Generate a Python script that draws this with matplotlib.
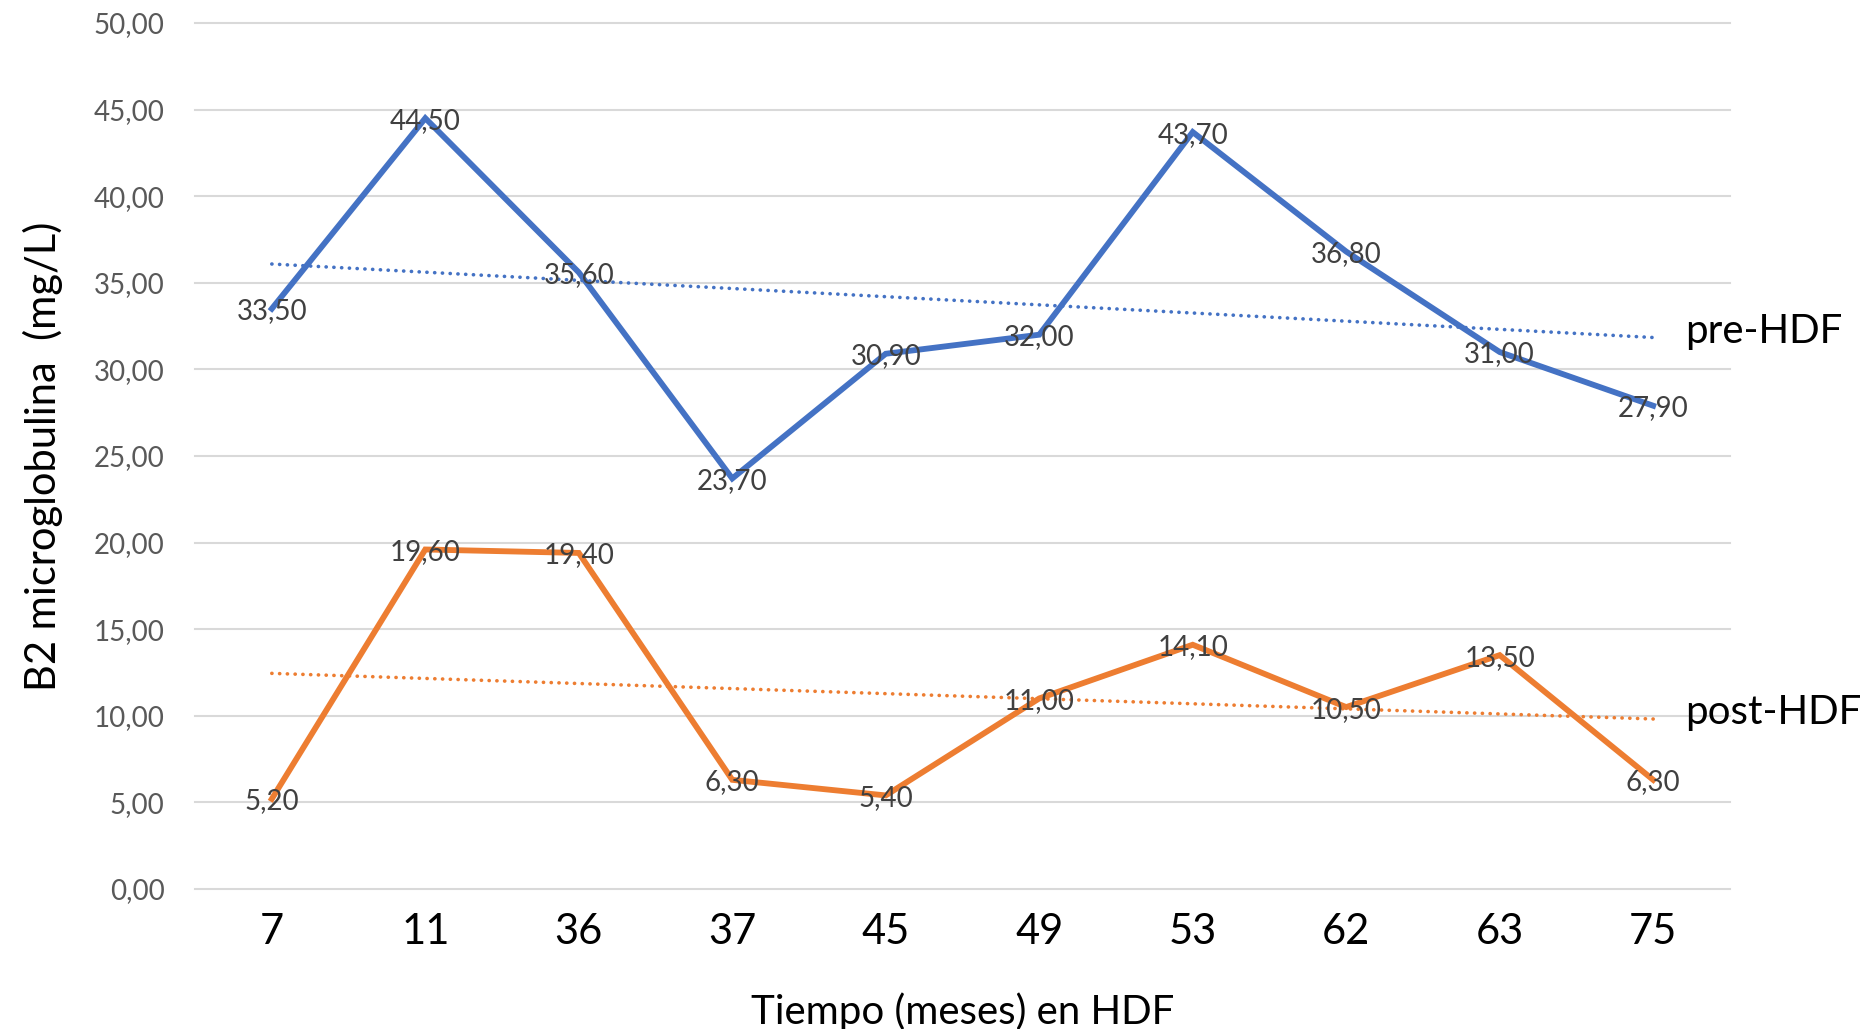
import numpy as np
import matplotlib.pyplot as plt
from matplotlib.ticker import FuncFormatter, MultipleLocator

# Months on HDF and B2 microglobulin before / after the session
meses = ['7', '11', '36', '37', '45', '49', '53', '62', '63', '75']
pre_hdf = [33.50, 44.50, 35.60, 23.70, 30.90, 32.00, 43.70, 36.80, 31.00, 27.90]
post_hdf = [5.20, 19.60, 19.40, 6.30, 5.40, 11.00, 14.10, 10.50, 13.50, 6.30]

azul = '#4472C4'
naranja = '#ED7D31'

plt.rcParams['font.family'] = ['Lato', 'DejaVu Sans']


def coma(v, pos=None):
    return f'{v:.2f}'.replace('.', ',')


fig = plt.figure(figsize=(18.72, 10.29), dpi=100)
ax = fig.add_axes([0.1042, 0.1361, 0.8199, 0.8416])

x = np.arange(len(meses))

for serie, color, nombre in [(pre_hdf, azul, 'pre-HDF'), (post_hdf, naranja, 'post-HDF')]:
    y = np.array(serie)
    ax.plot(x, y, color=color, lw=4.2, solid_joinstyle='miter', zorder=3)

    # linear trendline (Excel style, x = 1..n)
    m, b = np.polyfit(x + 1, y, 1)
    tend = m * (x + 1) + b
    ax.plot(x, tend, color=color, lw=2.6, linestyle=(0, (0.05, 2.1)),
            dash_capstyle='round', zorder=2)

    # value labels centred on each point
    for xi, yi in zip(x, y):
        ax.text(xi, yi, coma(yi), ha='center', va='center_baseline', fontsize=20,
                color='#404040', zorder=4)

    # series name to the right of the trendline end
    ax.text(x[-1] + 0.21, tend[-1] + 0.35, nombre, ha='left', va='center',
            fontsize=29, color='black')

ax.set_xlim(-0.5, len(meses) - 0.5)
ax.set_ylim(0, 50)
ax.yaxis.set_major_locator(MultipleLocator(5))
ax.yaxis.set_major_formatter(FuncFormatter(coma))
ax.set_xticks(x)
ax.set_xticklabels(meses)

ax.grid(axis='y', color='#D9D9D9', lw=1.5, clip_on=False)
ax.set_axisbelow(True)
for s in ax.spines.values():
    s.set_visible(False)

ax.tick_params(axis='y', length=0, pad=22, labelsize=20, labelcolor='#595959')
ax.tick_params(axis='x', length=0, pad=17, labelsize=30, labelcolor='black')

ax.set_xlabel('Tiempo (meses) en HDF', fontsize=29, labelpad=30)
ax.set_ylabel('B2 microglobulina  (mg/L)', fontsize=30, labelpad=22)

plt.savefig('out.png', dpi=100)
